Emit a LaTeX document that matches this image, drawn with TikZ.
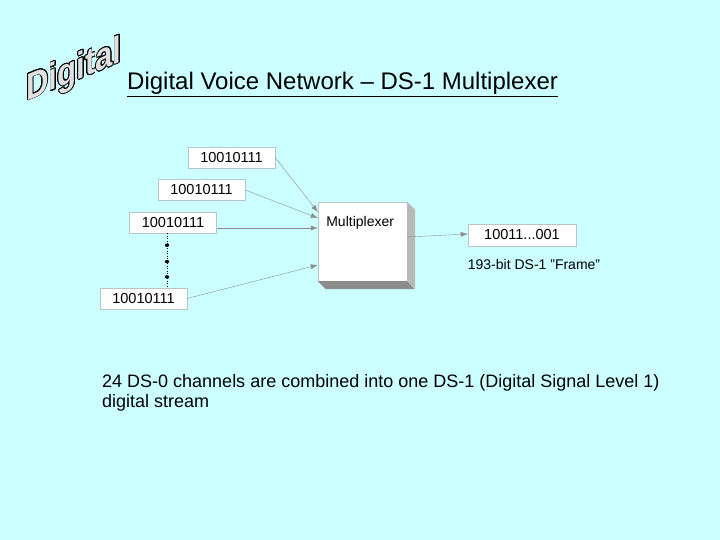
\documentclass[tikz,border=0pt]{standalone}
\usepackage{fontspec}
\setmainfont{Liberation Sans}
\usepackage[copies]{contour}
\usetikzlibrary{arrows.meta,positioning,calc}
\definecolor{slidebg}{HTML}{CCFFFF}
\definecolor{boxline}{HTML}{B8C4C8}

\begin{document}
\begin{tikzpicture}[x=1pt, y=-1pt,
  bits/.style={draw=boxline, fill=white, minimum width=87pt, minimum height=21pt, inner sep=0pt, font=\fontsize{14.5}{16}\selectfont},
  mux/.style={draw=boxline, fill=white, minimum width=89pt, minimum height=79pt, inner sep=0pt},
  arr/.style={-{Latex[length=7pt, width=5pt]}, black!45, line width=0.4pt},
  lbl/.style={font=\fontsize{14}{16}\selectfont},
]
\useasboundingbox[fill=slidebg] (0,0) rectangle (720,540);
% logo and title
\node[font=\fontsize{38}{38}\selectfont\bfseries, inner sep=0pt, xscale=0.82, yslant=0.34] (logo) at (74,72)
  {\contourlength{0.8pt}\contour{black}{\textcolor{white!88!black}{Digital}}};
\node[anchor=base west, inner sep=0pt, font=\fontsize{24}{26}\selectfont] (title) at (127,90)
  {\underline{Digital Voice Network -- DS-1 Multiplexer}};
% input channels
\node[bits] (ch1) at (231.5,157.5) {10010111};
\node[bits] (ch2) at (201.5,190) {10010111};
\node[bits] (ch3) at (173,222.5) {10010111};
\node[bits] (ch24) at (143.5,298.5) {10010111};
% multiplexer with its 3d edge
\node[mux] (mx) at (362.5,241.5) {};
\fill[black!28] (mx.north east) -- ++(8,8) -- ++(0,79) -- (mx.south east) -- cycle;
\fill[black!45] (mx.south west) -- ++(8,8) -- ++(89,0) -- (mx.south east) -- cycle;
\node[anchor=north west, font=\fontsize{14}{16}\selectfont] (mxlbl) at ([xshift=5pt, yshift=-11pt]mx.north west) {Multiplexer};
% output frame
\node[bits, minimum width=108pt, minimum height=22pt] (frame) at (522,235) {10011...001};
\node[lbl] (framelbl) at (534,264) {193-bit DS-1 {\char34}Frame{\char34}};
% connectors
\draw[arr] (ch1.east) -- ([yshift=29.5pt]mx.west);
\draw[arr] (ch2.east) -- ([yshift=23.5pt]mx.west);
\draw[arr] ([yshift=-5.5pt]ch3.east) -- ([yshift=13.5pt]mx.west);
\draw[arr] (ch24.east) -- ([yshift=-23.5pt]mx.west);
\draw[arr] ([yshift=4.5pt]mx.east) -- ([yshift=1pt]frame.west);
% channels left out between 3 and 24
\coordinate (gaptop) at ([xshift=-6pt]ch3.south);
\coordinate (gapbot) at ([xshift=23.5pt]ch24.north);
\draw[black, dotted, line width=0.5pt] (gaptop) -- (gapbot);
\foreach \f in {0.22,0.52,0.8} \fill[black] ($(gaptop)!\f!(gapbot)$) ellipse (2.2pt and 1.7pt);
% caption
\node[anchor=base west, inner sep=0pt, align=left, font=\fontsize{18}{20}\selectfont] (caption) at (102,407)
  {24 DS-0 channels are combined into one DS-1 (Digital Signal Level 1)\\digital stream};
\end{tikzpicture}
\end{document}
